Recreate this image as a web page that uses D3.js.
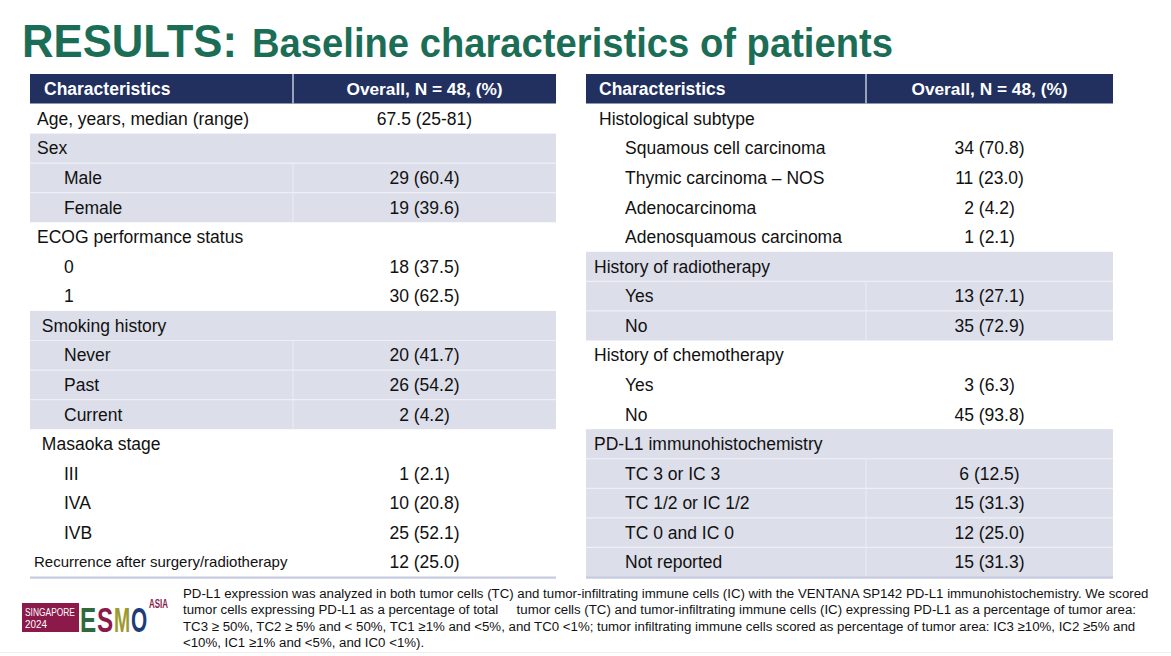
<!DOCTYPE html>
<html>
<head>
<meta charset="utf-8">
<script src="https://cdn.jsdelivr.net/npm/d3@7"></script>
<style>
  html, body { margin: 0; padding: 0; background: #ffffff; }
  svg { display: block; }
  text { font-family: "Liberation Sans", Arial, sans-serif; }
</style>
</head>
<body>
<svg id="chart" width="1171" height="656"></svg>
<script>
// ---------------- data ----------------
const titleMain = "RESULTS:";
const titleSub = "Baseline characteristics of patients";
const headerCols = ["Characteristics", "Overall, N = 48, (%)"];

const leftCategories = [
  "Age, years, median (range)", "Sex", "Male", "Female",
  "ECOG performance status", "0", "1",
  " Smoking history", "Never", "Past", "Current",
  " Masaoka stage", "III", "IVA", "IVB",
  "Recurrence after surgery/radiotherapy"
];
const leftValues = [
  "67.5 (25-81)", "", "29 (60.4)", "19 (39.6)",
  "", "18 (37.5)", "30 (62.5)",
  "", "20 (41.7)", "26 (54.2)", "2 (4.2)",
  "", "1 (2.1)", "10 (20.8)", "25 (52.1)",
  "12 (25.0)"
];
const leftLevel = [0,0,1,1, 0,1,1, 0,1,1,1, 0,1,1,1, 2];
const leftShaded = [0,1,1,1, 0,0,0, 1,1,1,1, 0,0,0,0, 0];

const rightCategories = [
  "Histological subtype", "Squamous cell carcinoma", "Thymic carcinoma \u2013 NOS",
  "Adenocarcinoma", "Adenosquamous carcinoma",
  "History of radiotherapy", "Yes", "No",
  "History of chemotherapy", "Yes", "No",
  "PD-L1 immunohistochemistry", "TC 3 or IC 3", "TC 1/2 or IC 1/2",
  "TC 0 and IC 0", "Not reported"
];
const rightValues = [
  "", "34 (70.8)", "11 (23.0)", "2 (4.2)", "1 (2.1)",
  "", "13 (27.1)", "35 (72.9)",
  "", "3 (6.3)", "45 (93.8)",
  "", "6 (12.5)", "15 (31.3)", "12 (25.0)", "15 (31.3)"
];
const rightLevel = [3,1,1,1,1, 0,1,1, 0,1,1, 0,1,1,1,1];
const rightShaded = [0,0,0,0,0, 1,1,1, 0,0,0, 1,1,1,1,1];

const footnoteLines = [
  "PD-L1 expression was analyzed in both tumor cells (TC) and tumor-infiltrating immune cells (IC) with the VENTANA SP142 PD-L1 immunohistochemistry. We scored",
  "tumor cells expressing PD-L1 as a percentage of total     tumor cells (TC) and tumor-infiltrating immune cells (IC) expressing PD-L1 as a percentage of tumor area:",
  "TC3 \u2265 50%, TC2 \u2265 5% and < 50%, TC1 \u22651% and <5%, and TC0 <1%; tumor infiltrating immune cells scored as percentage of tumor area: IC3 \u226510%, IC2 \u22655% and",
  "<10%, IC1 \u22651% and <5%, and IC0 <1%)."
];

const logoLetters = ["E", "S", "M", "O"];
const logoColors = ["#2e6a3e", "#8b1a4a", "#9c9a2f", "#203b78"];
const logoBoxLines = ["SINGAPORE", "2024"];

// ---------------- drawing ----------------
const svg = d3.select("#chart");
const NAVY = "#21305f", SHADE = "#dcdee9", GREEN = "#1b6e55";
const NARROW = "'Liberation Sans Narrow','Arial Narrow','Liberation Sans',sans-serif";

// title
svg.append("text").attr("x", 22).attr("y", 57)
  .attr("font-family", NARROW)
  .attr("font-weight", "bold").attr("font-size", 47).attr("fill", GREEN)
  .attr("textLength", 215).attr("lengthAdjust", "spacingAndGlyphs")
  .text(titleMain);
svg.append("text").attr("x", 252).attr("y", 57)
  .attr("font-family", NARROW)
  .attr("font-weight", "bold").attr("font-size", 41).attr("fill", GREEN)
  .attr("textLength", 641).attr("lengthAdjust", "spacingAndGlyphs")
  .text(titleSub);

function drawTable(cfg) {
  const g = svg.append("g");
  const y = d3.scaleBand().domain(d3.range(cfg.cats.length)).range([104, 577]).paddingInner(0);
  const bw = y.bandwidth();
  const valX = (cfg.split + cfg.x1) / 2;

  // header
  g.append("rect").attr("x", cfg.x0).attr("y", 74).attr("width", cfg.x1 - cfg.x0).attr("height", 29.5).attr("fill", NAVY);
  g.append("line").attr("x1", cfg.split).attr("x2", cfg.split).attr("y1", 74).attr("y2", 103.5)
    .attr("stroke", "#c3c7d8").attr("stroke-width", 1.5);
  g.append("text").attr("x", cfg.headX).attr("y", 89).attr("dy", "0.35em")
    .attr("fill", "#fff").attr("font-weight", "bold").attr("font-size", 17.5).text(headerCols[0]);
  g.append("text").attr("x", valX).attr("y", 89).attr("dy", "0.35em").attr("text-anchor", "middle")
    .attr("fill", "#fff").attr("font-weight", "bold").attr("font-size", 17.3).text(headerCols[1]);

  const rows = d3.range(cfg.cats.length);
  // shading
  g.selectAll("rect.shade").data(rows.filter(i => cfg.shaded[i])).join("rect")
    .attr("class", "shade").attr("x", cfg.x0).attr("y", i => y(i)).attr("width", cfg.x1 - cfg.x0)
    .attr("height", bw).attr("fill", SHADE);
  // white separators inside shaded groups
  g.selectAll("line.sep").data(rows.filter(i => cfg.shaded[i] && i > 0 && cfg.shaded[i - 1])).join("line")
    .attr("class", "sep").attr("x1", cfg.x0).attr("x2", cfg.x1).attr("y1", i => y(i)).attr("y2", i => y(i))
    .attr("stroke", "#eef0f6").attr("stroke-width", 1.2);
  // vertical divider in shaded item rows
  g.selectAll("line.vdiv").data(rows.filter(i => cfg.shaded[i] && cfg.level[i] === 1)).join("line")
    .attr("class", "vdiv").attr("x1", cfg.split).attr("x2", cfg.split).attr("y1", i => y(i)).attr("y2", i => y(i) + bw)
    .attr("stroke", "#eceef5").attr("stroke-width", 1);

  // labels
  g.selectAll("text.lab").data(rows).join("text").attr("class", "lab")
    .attr("x", i => cfg.indent[cfg.level[i]])
    .attr("y", i => y(i) + bw / 2).attr("dy", "0.35em")
    .attr("font-size", i => cfg.level[i] === 2 ? 15 : 17.5)
    .attr("fill", "#111")
    .style("white-space", "pre")
    .text(i => cfg.cats[i]);
  g.selectAll("text.val").data(rows.filter(i => cfg.vals[i] !== "")).join("text").attr("class", "val")
    .attr("x", valX).attr("text-anchor", "middle")
    .attr("y", i => y(i) + bw / 2).attr("dy", "0.35em")
    .attr("font-size", 17.5).attr("fill", "#111")
    .text(i => cfg.vals[i]);

  // bottom rule
  g.append("rect").attr("x", cfg.x0).attr("y", 576.5).attr("width", cfg.x1 - cfg.x0).attr("height", 2.2).attr("fill", "#c6cadf");
}

drawTable({ x0: 30, split: 293, x1: 556, headX: 44, cats: leftCategories, vals: leftValues,
  level: leftLevel, shaded: leftShaded, indent: { 0: 37, 1: 64, 2: 34 } });
drawTable({ x0: 586, split: 866, x1: 1113, headX: 599, cats: rightCategories, vals: rightValues,
  level: rightLevel, shaded: rightShaded, indent: { 0: 594, 1: 625, 3: 599 } });

// footnote
const fn = svg.append("g");
fn.selectAll("text").data(footnoteLines).join("text")
  .attr("x", 183).attr("y", (d, i) => 598 + i * 16.3)
  .attr("font-size", 13.25).attr("fill", "#111").style("white-space", "pre")
  .text(d => d);

// logo
const logo = svg.append("g");
logo.append("rect").attr("x", 22).attr("y", 603).attr("width", 57).attr("height", 29).attr("fill", "#8b1a4a");
const boxWidths = [50, 22];
logo.selectAll("text.box").data(logoBoxLines).join("text").attr("class", "box")
  .attr("x", 0).attr("y", 0).attr("font-size", 11.5).attr("fill", "#fff")
  .text(d => d)
  .each(function (d, i) {
    const w = this.getComputedTextLength() || 50;
    const sx = boxWidths[i] / w;
    d3.select(this).attr("transform", `translate(25,${616 + i * 12}) scale(${sx},1)`);
  });
const lx = d3.scaleBand().domain(d3.range(logoLetters.length)).range([80, 148]).paddingInner(0);
logo.selectAll("text.lt").data(logoLetters).join("text").attr("class", "lt")
  .attr("x", 0).attr("y", 0).attr("font-size", 35).attr("font-weight", "bold")
  .attr("fill", (d, i) => logoColors[i])
  .text(d => d)
  .each(function (d, i) {
    const w = this.getComputedTextLength() || 20;
    const sx = (lx.bandwidth() - 0.8) / w;
    d3.select(this).attr("transform", `translate(${lx(i)},632) scale(${sx},1)`);
  });
logo.append("text").attr("x", 0).attr("y", 0).attr("font-size", 12).attr("font-weight", "bold")
  .attr("fill", "#8b1a4a").text("ASIA")
  .each(function () {
    const w = this.getComputedTextLength() || 30;
    d3.select(this).attr("transform", `translate(149,608) scale(${19 / w},1)`);
  });

// faint bottom line
svg.append("line").attr("x1", 0).attr("x2", 1171).attr("y1", 652.5).attr("y2", 652.5).attr("stroke", "#eeeeee");
</script>
</body>
</html>
